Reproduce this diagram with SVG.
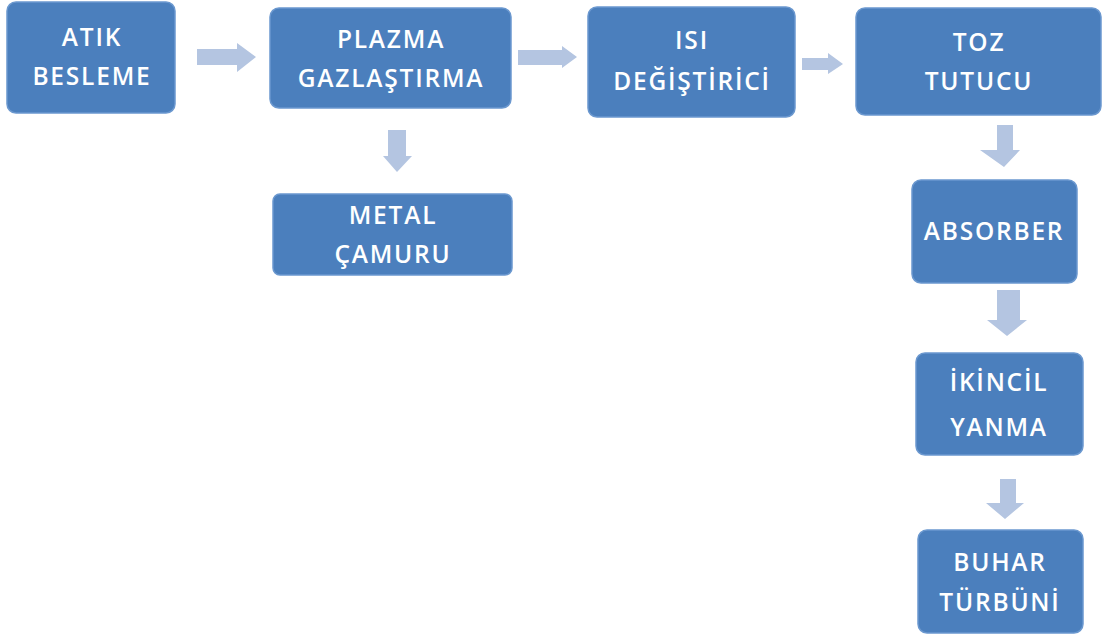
<svg xmlns="http://www.w3.org/2000/svg" width="1109" height="636" viewBox="0 0 1109 636">
<style>
.box{fill:#4b7fbd;stroke:#6b98cf;stroke-width:1.5}
.t{font-family:"Open Sans","Liberation Sans",sans-serif;font-weight:600;font-size:24.5px;fill:#ffffff;text-anchor:middle;letter-spacing:1.8px}
.ar{fill:#b4c5e1}
</style>
<rect width="1109" height="636" fill="#ffffff"/>
<g id="connectors">
<polygon class="ar" points="197,49 237,49 237,43 256,57 237,72 237,65 197,65"/>
<polygon class="ar" points="518,50 562,50 562,46 577,57 562,68 562,65 518,65"/>
<polygon class="ar" points="802,58 828,58 828,53 843,64 828,74 828,70 802,70"/>
<polygon class="ar" points="388,130 406,130 406,156 412,156 397,172 383,156 388,156"/>
<polygon class="ar" points="997,125 1013,125 1013,150 1020,150 1004,167 980,150 997,150"/>
<polygon class="ar" points="997,290 1020,290 1020,320 1027,320 1007,336 987,320 997,320"/>
<polygon class="ar" points="1000,479 1016,479 1016,503 1024,503 1005,519 986,503 1000,503"/>
</g>
<g id="atik-besleme">
<rect class="box" x="7" y="2" width="168" height="111" rx="9"/>
<text class="t" x="92" y="46">ATIK</text>
<text class="t" x="92" y="85">BESLEME</text>
</g>
<g id="plazma">
<rect class="box" x="270" y="8" width="241" height="100" rx="9"/>
<text class="t" x="391" y="48">PLAZMA</text>
<text class="t" x="391" y="87">GAZLAŞTIRMA</text>
</g>
<g id="isi">
<rect class="box" x="588" y="7" width="207" height="110" rx="9"/>
<text class="t" x="692" y="49">ISI</text>
<text class="t" x="692" y="90">DEĞİŞTİRİCİ</text>
</g>
<g id="toz">
<rect class="box" x="856" y="8" width="245" height="107" rx="9"/>
<text class="t" x="979" y="51">TOZ</text>
<text class="t" x="979" y="90">TUTUCU</text>
</g>
<g id="metal">
<rect class="box" x="273" y="194" width="239" height="81" rx="7"/>
<text class="t" x="393" y="224">METAL</text>
<text class="t" x="393" y="263">ÇAMURU</text>
</g>
<g id="absorber">
<rect class="box" x="912" y="180" width="165" height="103" rx="9"/>
<text class="t" x="994" y="240">ABSORBER</text>
</g>
<g id="ikincil">
<rect class="box" x="916" y="353" width="167" height="102" rx="9"/>
<text class="t" x="999" y="391">İKİNCİL</text>
<text class="t" x="999" y="436">YANMA</text>
</g>
<g id="buhar">
<rect class="box" x="918" y="530" width="165" height="103" rx="9"/>
<text class="t" x="1000" y="571">BUHAR</text>
<text class="t" x="1000" y="611">TÜRBÜNİ</text>
</g>
</svg>
